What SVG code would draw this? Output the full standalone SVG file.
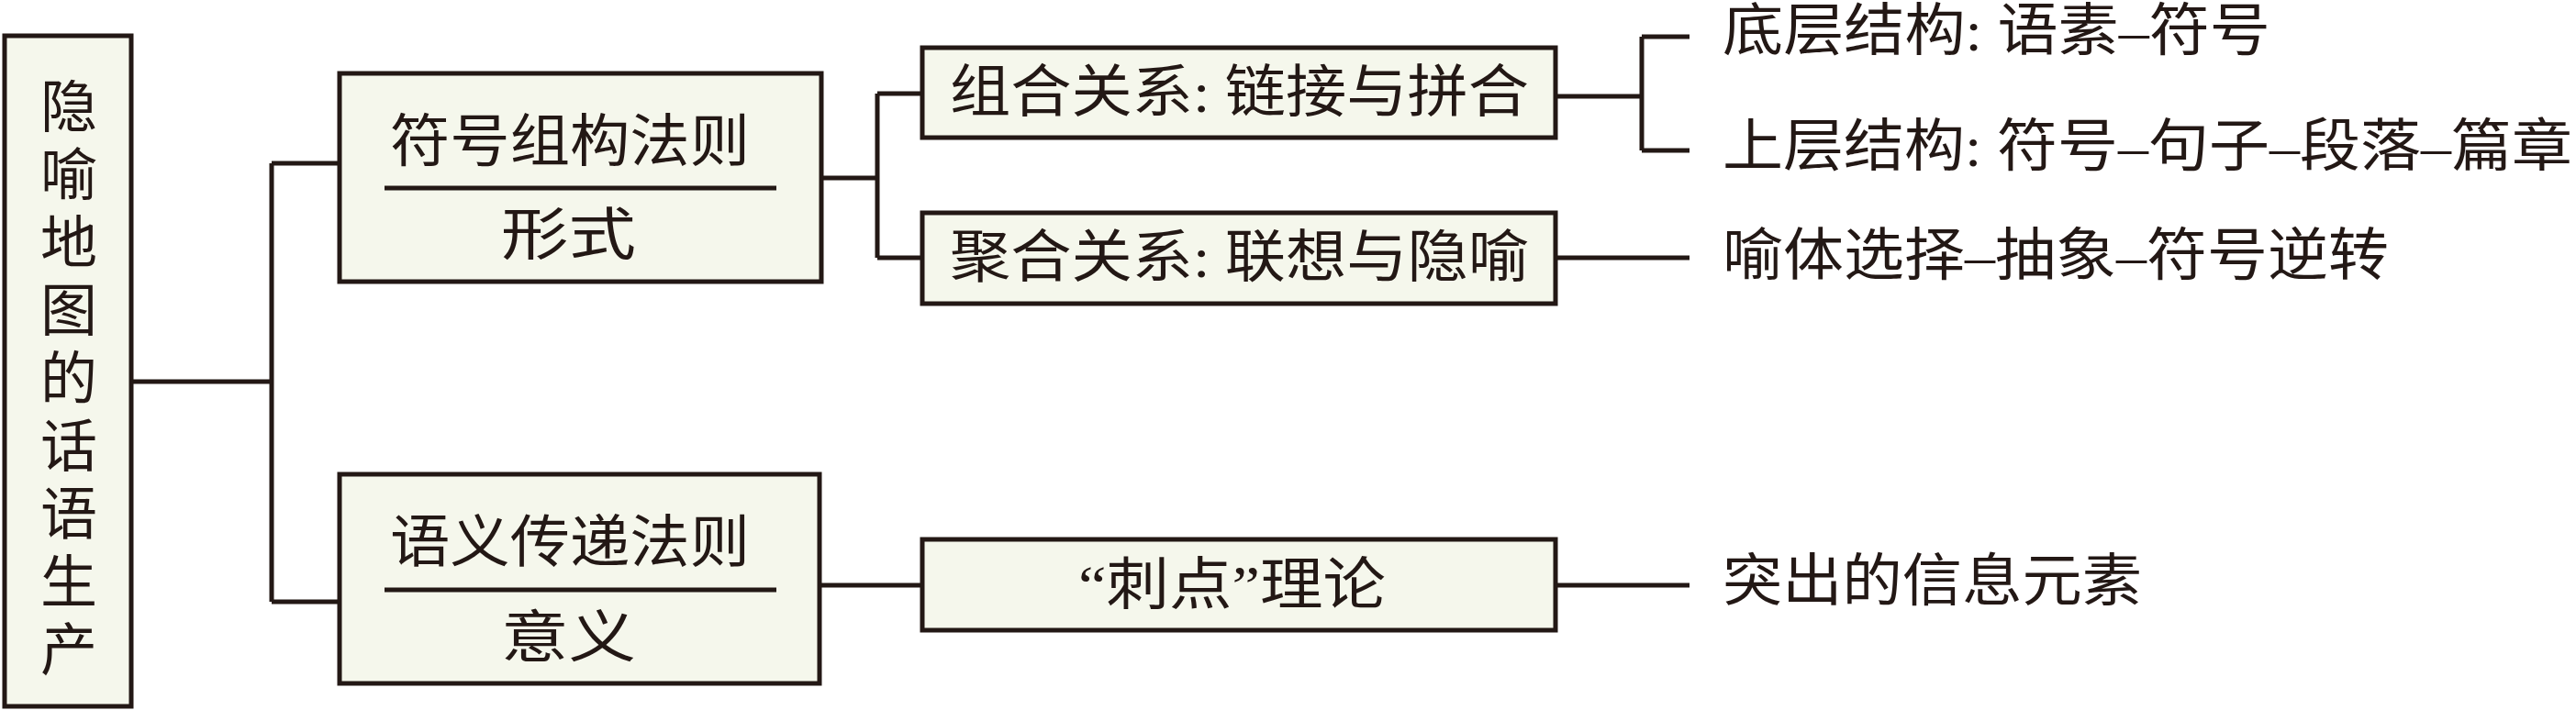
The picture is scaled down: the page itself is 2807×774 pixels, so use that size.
<svg xmlns="http://www.w3.org/2000/svg" width="2807" height="774" viewBox="0 0 2807 774">
<style>
.b{fill:#f5f7ec;stroke:#231815;stroke-width:5}
.l{fill:none;stroke:#231815;stroke-width:5}
text{font-family:"Liberation Serif","Noto Sans CJK SC",serif;font-size:62px;fill:#231815;dominant-baseline:central}
.c{text-anchor:middle}
</style>
<rect width="2807" height="774" fill="#fff"/>
<g id="connectors">
<path class="l" d="M143 416H296M296 178V656M296 178H370M296 656H370"/>
<path class="l" d="M895 194H956M956 102V281M956 102H1005M956 281H1005"/>
<path class="l" d="M893 638H1005"/>
<path class="l" d="M1695 105H1789M1789 40V164M1789 40H1841M1789 164H1841"/>
<path class="l" d="M1695 281H1841M1695 638H1841"/>
</g>
<g id="root">
<rect class="b" x="5" y="39" width="138" height="731"/>
<text class="c" x="75" y="118">隐</text><text class="c" x="75" y="192">喻</text><text class="c" x="75" y="266">地</text><text class="c" x="75" y="340">图</text><text class="c" x="75" y="414">的</text><text class="c" x="75" y="488">话</text><text class="c" x="75" y="562">语</text><text class="c" x="75" y="636">生</text><text class="c" x="75" y="710">产</text>
</g>
<g id="form">
<rect class="b" x="370" y="80" width="525" height="227"/>
<text x="425" y="155" textLength="392" lengthAdjust="spacingAndGlyphs">符号组构法则</text>
<path class="l" d="M419 205H846"/>
<text x="546" y="257" textLength="147" lengthAdjust="spacingAndGlyphs">形式</text>
</g>
<g id="meaning">
<rect class="b" x="370" y="517" width="523" height="228"/>
<text x="425" y="592" textLength="392" lengthAdjust="spacingAndGlyphs">语义传递法则</text>
<path class="l" d="M419 643H846"/>
<text x="546" y="696" textLength="147" lengthAdjust="spacingAndGlyphs">意义</text>
</g>
<g id="syntag">
<rect class="b" x="1005" y="52" width="690" height="98"/>
<text x="1035" y="101" textLength="631" lengthAdjust="spacingAndGlyphs">组合关系: 链接与拼合</text>
</g>
<g id="paradig">
<rect class="b" x="1005" y="232" width="690" height="99"/>
<text x="1035" y="281" textLength="631" lengthAdjust="spacingAndGlyphs">聚合关系: 联想与隐喻</text>
</g>
<g id="punctum">
<rect class="b" x="1005" y="588" width="690" height="99"/>
<text x="1175" y="638" textLength="335" lengthAdjust="spacingAndGlyphs">“刺点”理论</text>
</g>
<g id="t1"><text x="1877" y="34" textLength="597" lengthAdjust="spacingAndGlyphs">底层结构: 语素–符号</text></g>
<g id="t2"><text x="1877" y="160" textLength="926" lengthAdjust="spacingAndGlyphs">上层结构: 符号–句子–段落–篇章</text></g>
<g id="t3"><text x="1877" y="279" textLength="726" lengthAdjust="spacingAndGlyphs">喻体选择–抽象–符号逆转</text></g>
<g id="t4"><text x="1877" y="634" textLength="457" lengthAdjust="spacingAndGlyphs">突出的信息元素</text></g>
</svg>
